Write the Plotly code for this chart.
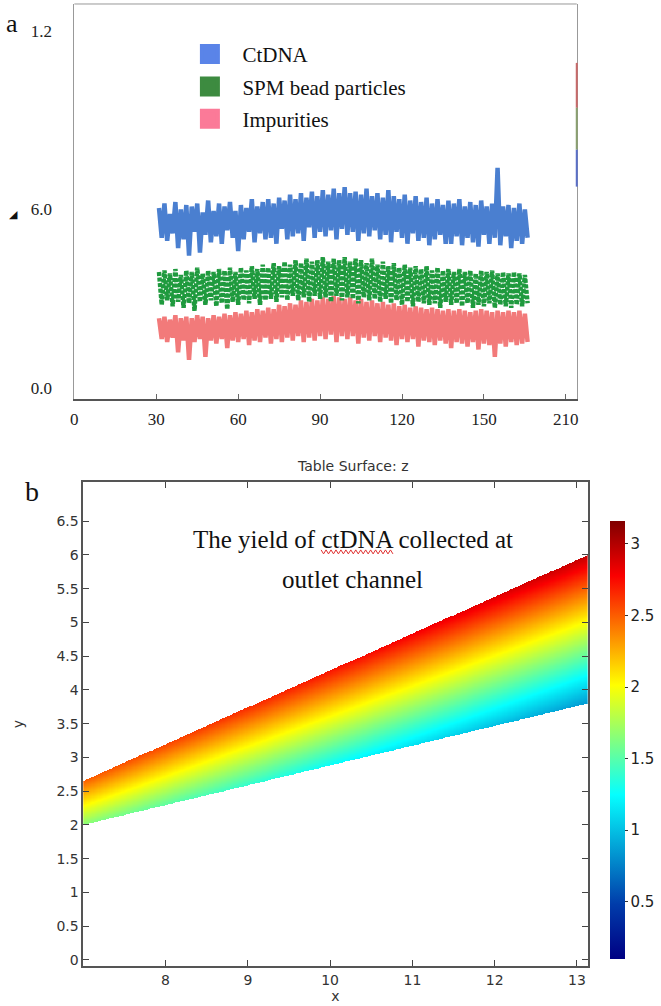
import numpy as np
import plotly.graph_objects as go

# ---------------- panel a data ----------------
pos_x = list(range(31, 167))  # sample positions along the table surface

ctdna = [
    6.05, 5.05, 6.20, 4.95, 5.85, 5.20, 6.25, 4.70, 6.00, 5.00,
    6.15, 4.45, 6.10, 5.25, 6.20, 4.55, 5.90, 5.15, 6.30, 4.90,
    5.95, 5.10, 6.20, 4.85, 6.10, 5.30, 6.25, 5.05, 5.95, 4.60,
    6.15, 5.00, 6.05, 5.25, 6.35, 4.90, 6.10, 5.20, 6.25, 5.00,
    6.35, 5.05, 6.20, 4.85, 6.40, 5.35, 6.30, 5.00, 6.50, 5.10,
    6.35, 5.20, 6.55, 4.95, 6.40, 5.40, 6.60, 5.05, 6.45, 5.25,
    6.65, 5.10, 6.50, 5.30, 6.70, 5.00, 6.55, 5.35, 6.75, 5.15,
    6.55, 5.25, 6.60, 4.95, 6.50, 5.20, 6.70, 5.10, 6.45, 5.30,
    6.55, 5.00, 6.40, 5.15, 6.65, 4.90, 6.45, 5.25, 6.35, 5.05,
    6.50, 4.85, 6.30, 5.20, 6.45, 4.95, 6.25, 5.05, 6.40, 4.80,
    6.20, 5.00, 6.35, 5.15, 6.15, 4.85, 6.30, 4.85, 6.20, 5.10,
    6.35, 4.80, 6.10, 5.05, 6.25, 4.90, 6.15, 4.75, 6.30, 5.15,
    6.10, 4.85, 6.20, 5.05, 7.40, 4.80, 6.10, 5.10, 6.15, 4.70,
    6.05, 4.95, 6.20, 4.85, 6.00, 5.05,
]

spm_beads = [
    3.90, 2.80, 3.95, 2.95, 3.85, 2.75, 4.00, 2.90, 3.80, 2.70,
    3.95, 2.85, 3.90, 2.60, 4.05, 2.90, 3.85, 2.80, 3.95, 2.95,
    3.90, 2.75, 4.00, 2.85, 3.95, 2.65, 4.05, 2.90, 3.90, 2.80,
    4.05, 2.95, 3.95, 2.85, 4.10, 3.00, 4.00, 2.80, 4.15, 2.95,
    4.05, 3.00, 4.20, 2.90, 4.10, 3.05, 4.25, 2.95, 4.15, 3.10,
    4.30, 2.95, 4.20, 3.05, 4.35, 2.90, 4.25, 3.10, 4.30, 3.00,
    4.40, 3.05, 4.25, 2.90, 4.35, 3.10, 4.30, 2.95, 4.40, 3.05,
    4.25, 3.00, 4.35, 2.85, 4.30, 3.05, 4.20, 2.95, 4.35, 3.00,
    4.15, 2.90, 4.25, 3.00, 4.10, 2.85, 4.20, 2.95, 4.05, 2.80,
    4.15, 2.90, 4.05, 2.75, 4.10, 2.90, 4.00, 2.85, 4.10, 2.80,
    3.95, 2.85, 4.05, 2.70, 3.95, 2.90, 4.00, 2.80, 3.90, 2.85,
    4.00, 2.75, 3.90, 2.85, 3.95, 2.70, 3.85, 2.80, 3.95, 2.75,
    3.90, 2.85, 3.95, 2.70, 3.85, 2.80, 3.90, 2.75, 3.85, 2.70,
    3.90, 2.80, 3.85, 2.75, 3.80, 2.85,
]

impurities = [
    2.35, 1.65, 2.40, 1.55, 2.30, 1.70, 2.45, 1.20, 2.35, 1.60,
    2.40, 0.95, 2.35, 1.55, 2.45, 1.65, 2.40, 1.05, 2.35, 1.60,
    2.45, 1.50, 2.40, 1.65, 2.50, 1.35, 2.45, 1.60, 2.55, 1.55,
    2.50, 1.65, 2.60, 1.45, 2.55, 1.60, 2.65, 1.55, 2.60, 1.70,
    2.70, 1.50, 2.65, 1.65, 2.80, 1.55, 2.75, 1.70, 2.85, 1.60,
    2.80, 1.75, 2.95, 1.55, 2.90, 1.70, 3.00, 1.60, 2.95, 1.75,
    3.05, 1.65, 3.00, 1.80, 3.10, 1.55, 3.05, 1.75, 3.00, 1.65,
    3.05, 1.75, 2.95, 1.50, 3.00, 1.70, 2.90, 1.60, 2.95, 1.75,
    2.85, 1.55, 2.90, 1.70, 2.80, 1.60, 2.85, 1.45, 2.75, 1.65,
    2.80, 1.55, 2.70, 1.65, 2.75, 1.40, 2.70, 1.60, 2.65, 1.55,
    2.70, 1.45, 2.65, 1.60, 2.60, 1.50, 2.65, 1.35, 2.60, 1.55,
    2.65, 1.50, 2.60, 1.40, 2.55, 1.55, 2.60, 1.30, 2.65, 1.50,
    2.60, 1.45, 2.55, 1.05, 2.60, 1.50, 2.55, 1.40, 2.60, 1.55,
    2.55, 1.45, 2.60, 1.50, 2.50, 1.55,
]

a_xticks = [0, 30, 60, 90, 120, 150, 180]
a_xticktext = ["0", "30", "60", "90", "120", "150", "210"]
a_yticks = [0, 6, 12]
a_yticktext = ["0.0", "6.0", "1.2"]

series_names = ["CtDNA", "SPM bead particles", "Impurities"]
line_colors = ["#4a7fd0", "#1f9a3e", "#f27a7a"]
legend_colors = ["#5a84e8", "#3d8b40", "#fb7a98"]

# ---------------- panel b data ----------------
band_x = [7.0, 13.13]          # x extent of the channel band
band_lower = [2.0, 3.8]        # lower edge y
band_upper = [2.65, 6.0]       # upper edge y
z_lower = [1.65, 0.85]         # z value on lower edge
z_upper = [2.5, 2.95]          # z value on upper edge
b_xticks = [8, 9, 10, 11, 12, 13]
b_yticks = [0, 0.5, 1, 1.5, 2, 2.5, 3, 3.5, 4, 4.5, 5, 5.5, 6, 6.5]
cbar_ticks = [0.5, 1, 1.5, 2, 2.5, 3]

W, H = 661, 1006
def px(x): return x / W
def py(y): return 1 - y / H

fig = go.Figure()

# panel a traces (pink under green under blue)
vals = [ctdna, spm_beads, impurities]
styles = {0: dict(width=4.5, dash="solid"),
          1: dict(width=4.5, dash="4px,1.5px"),
          2: dict(width=4.5, dash="solid")}
for i in [2, 1, 0]:
    fig.add_trace(go.Scatter(
        x=pos_x, y=vals[i], mode="lines",
        line=dict(color=line_colors[i], **styles[i]),
        showlegend=False, xaxis="x", yaxis="y", hoverinfo="skip"))
# legend entries
for i in range(3):
    fig.add_trace(go.Scatter(
        x=[None], y=[None], mode="markers", name=series_names[i],
        legendgroup=f"g{i}",
        marker=dict(symbol="square", size=16, color=legend_colors[i],
                    line=dict(width=4, color=legend_colors[i])),
        xaxis="x", yaxis="y"))

# panel b surface
gx = np.linspace(band_x[0], band_x[1], 420)
gy = np.linspace(1.9, 6.1, 520)
lo = np.interp(gx, band_x, band_lower)
up = np.interp(gx, band_x, band_upper)
zl = np.interp(gx, band_x, z_lower)
zu = np.interp(gx, band_x, z_upper)
Y = gy[:, None]
t = (Y - lo[None, :]) / (up - lo)[None, :]
Z = zl[None, :] + t * (zu - zl)[None, :]
Z = np.where((t >= 0) & (t <= 1), Z, np.nan)

jet = [[0.0, "rgb(0,0,131)"], [0.125, "rgb(0,60,170)"], [0.375, "rgb(5,255,255)"],
       [0.625, "rgb(255,255,0)"], [0.875, "rgb(250,0,0)"], [1.0, "rgb(128,0,0)"]]

fig.add_trace(go.Heatmap(
    x=gx, y=gy, z=Z, colorscale=jet, zmin=0.1, zmax=3.16,
    xaxis="x2", yaxis="y2", hoverinfo="skip",
    colorbar=dict(x=px(612), xanchor="left", y=py(741.5), yanchor="middle",
                  len=439 / H, lenmode="fraction", thickness=15,
                  xpad=0, ypad=0, outlinewidth=0,
                  tickvals=cbar_ticks, ticks="outside", ticklen=3,
                  tickcolor="#333",
                  tickfont=dict(family="DejaVu Sans", size=15, color="#222"))))

serif = "Liberation Serif"
sans = "DejaVu Sans"

fig.update_layout(
    width=W, height=H, margin=dict(l=0, r=0, t=0, b=0),
    paper_bgcolor="white", plot_bgcolor="white",
    showlegend=True,
    legend=dict(x=px(175), xanchor="left", y=py(34), yanchor="top",
                bgcolor="rgba(0,0,0,0)", traceorder="grouped",
                tracegroupgap=2, itemwidth=55,
                font=dict(family=serif, size=21, color="#111")),
    xaxis=dict(domain=[px(71), px(578)], range=[0, 184],
               tickvals=a_xticks, ticktext=a_xticktext,
               ticks="inside", ticklen=5, tickcolor="#666",
               showline=True, linecolor="#555", linewidth=1.5,
               showgrid=False, zeroline=False, ticklabelstandoff=4,
               tickfont=dict(family=serif, size=17, color="#222")),
    yaxis=dict(domain=[py(400), py(4)], range=[-0.37, 12.9],
               tickvals=a_yticks, ticktext=a_yticktext, ticks="",
               showline=True, linecolor="#999", linewidth=1, mirror=True,
               showgrid=False, zeroline=False, ticklabelstandoff=18,
               tickfont=dict(family=serif, size=17, color="#222")),
    xaxis2=dict(domain=[px(80), px(589)], range=[7.0, 13.13], anchor="y2",
                tickvals=b_xticks, ticks="inside", ticklen=6, tickcolor="#444",
                showline=True, linecolor="#555", linewidth=1.5, mirror="ticks",
                showgrid=False, zeroline=False,
                tickfont=dict(family=sans, size=14, color="#333"),
                title=dict(text="x", standoff=0,
                           font=dict(family=sans, size=14, color="#333"))),
    yaxis2=dict(domain=[py(968), py(483)], range=[-0.09, 7.08], anchor="x2",
                tickvals=b_yticks, ticks="inside", ticklen=6, tickcolor="#444",
                showline=True, linecolor="#555", linewidth=1.5, mirror="ticks",
                showgrid=False, zeroline=False,
                tickfont=dict(family=sans, size=14, color="#333"),
                title=dict(text="y", standoff=30,
                           font=dict(family=sans, size=14, color="#333"))),
)

# top frame line of panel a
fig.add_shape(type="line", xref="x domain", yref="y domain", x0=0, x1=1, y0=1, y1=1,
              line=dict(color="#999", width=1))
# coloured remnant on right frame of panel a
for c, y0, y1 in [("#c86a6a", 63, 108), ("#8aa070", 108, 150), ("#5a6fc8", 150, 187)]:
    fig.add_shape(type="line", xref="x domain", yref="paper", x0=1, x1=1,
                  y0=py(y0), y1=py(y1), line=dict(color=c, width=2))

# red spell-check squiggle under "ctDNA"
pts = []
xx = 320.0
k = 0
while xx <= 393:
    pts.append((px(xx), py(551 if k % 2 == 0 else 555)))
    xx += 2.5
    k += 1
path = "M " + " L ".join(f"{a:.5f},{b:.5f}" for a, b in pts)
fig.add_shape(type="path", xref="paper", yref="paper", path=path,
              line=dict(color="#e03030", width=1))

ann = [
    dict(text="a", x=px(0), y=py(24), xanchor="left", yanchor="middle",
         font=dict(family=serif, size=26, color="#111")),
    dict(text="◢", x=px(10), y=py(215), xanchor="center", yanchor="middle",
         font=dict(family=sans, size=11, color="#111")),
    dict(text="b", x=px(28), y=py(492), xanchor="center", yanchor="middle",
         font=dict(family=serif, size=28, color="#111")),
    dict(text="Table Surface: z", x=px(352), y=py(467), xanchor="center", yanchor="middle",
         font=dict(family=sans, size=14, color="#333")),
    dict(text="The yield of ctDNA collected at", x=px(352), y=py(541),
         xanchor="center", yanchor="middle",
         font=dict(family=serif, size=25, color="#111")),
    dict(text="outlet channel", x=px(352), y=py(581),
         xanchor="center", yanchor="middle",
         font=dict(family=serif, size=25, color="#111")),
]
for a in ann:
    fig.add_annotation(xref="paper", yref="paper", showarrow=False, **a)

fig.write_html("out.html", config={"displayModeBar": False},
               post_script="document.body.style.margin='0px';document.body.style.overflow='hidden';")
